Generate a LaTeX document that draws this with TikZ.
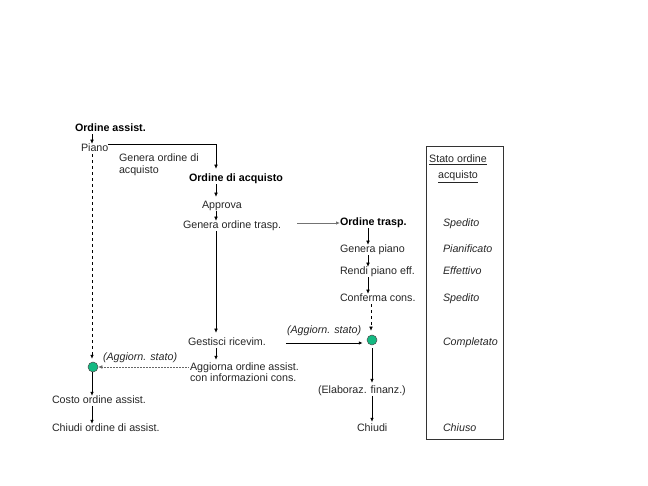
\documentclass[tikz,border=0pt]{standalone}
\usepackage{fontspec}
\setmainfont{Liberation Sans}
\usetikzlibrary{arrows.meta}
\definecolor{dotgreen}{RGB}{20,185,130}
\begin{document}
\begin{tikzpicture}[x=1pt,y=-1pt,
  txt/.style={anchor=west,inner sep=0pt,outer sep=0pt,text height=8pt,text depth=2.5pt,yshift=-2pt,font=\fontsize{10.7}{11}\selectfont,text=black!85},
  btxt/.style={txt,font=\fontsize{10.7}{11}\selectfont\bfseries,text=black},
  itxt/.style={txt,font=\fontsize{10.7}{11}\selectfont\itshape},
  ctxt/.style={txt,anchor=center},
  arr/.style={-{Latex[length=4pt,width=3.5pt]},line width=0.5pt},
  dot/.style={circle,draw=black!70,fill=dotgreen,minimum size=10pt,inner sep=0pt,line width=0.5pt}]
\useasboundingbox (0,0) rectangle (648,486);
\coordinate (cL) at (92,0);
\coordinate (cM) at (216,0);
\coordinate (cR) at (368,0);
% left column
\node[btxt] (oa) at (75,127) {Ordine assist.};
\node[txt] (piano) at (81,147) {Piano};
\node[txt] (goa1) at (119,157) {Genera ordine di};
\node[txt] (goa2) at (119,169) {acquisto};
\node[dot] (circL) at (93,367) {};
\node[itxt] (as2) at (103,356) {(Aggiorn. stato)};
\node[txt] (coa) at (52,399) {Costo ordine assist.};
\node[txt] (cod) at (52,427) {Chiudi ordine di assist.};
% middle column
\node[btxt] (oda) at (189,177) {Ordine di acquisto};
\node[txt] (appr) at (202,204) {Approva};
\node[txt] (got) at (183,224) {Genera ordine trasp.};
\node[txt] (gr) at (188,341) {Gestisci ricevim.};
\node[txt] (aoa1) at (190,366) {Aggiorna ordine assist.};
\node[txt] (aoa2) at (190,377) {con informazioni cons.};
% right column
\node[btxt] (ot) at (340,221) {Ordine trasp.};
\node[txt] (gp) at (340,248) {Genera piano};
\node[txt] (rpe) at (340,270) {Rendi piano eff.};
\node[txt] (cc) at (340,297) {Conferma cons.};
\node[itxt] (as1) at (287,329) {(Aggiorn. stato)};
\node[dot] (circR) at (372,340) {};
\node[txt] (ef) at (318,389) {(Elaboraz. finanz.)};
\node[txt] (ch) at (357,427) {Chiudi};
% status box
\node[draw=black!80,line width=0.6pt,minimum width=77pt,minimum height=293pt,inner sep=0pt] (box) at (464.5,292.5) {};
\node[ctxt] (st1) at (458,158) {\underline{Stato ordine}};
\node[ctxt] (st2) at (458,174) {\underline{acquisto}};
\node[itxt] (s1) at (443,222) {Spedito};
\node[itxt] (s2) at (443,248) {Pianificato};
\node[itxt] (s3) at (443,270) {Effettivo};
\node[itxt] (s4) at (443,297) {Spedito};
\node[itxt] (s5) at (443,341) {Completato};
\node[itxt] (s6) at (443,427) {Chiuso};
% connectors
\draw[arr] (oa.south -| cL) -- (piano.north -| cL);
\draw[arr] ([yshift=5pt]piano.east) -| ([yshift=5pt]oda.north -| cM);
\draw[arr] (oda.south -| cM) -- ([yshift=4pt]appr.north -| cM);
\draw[arr] (appr.south -| cM) -- (got.north -| cM);
\draw[arr] (got.south -| cM) -- ([yshift=5pt]gr.north -| cM);
\draw[arr] (gr.south -| cM) -- ([yshift=3pt]aoa1.north -| cM);
\draw[arr,draw=black!55,line width=0.9pt,shorten <=16pt] (got.east |- ot.west) -- (ot.west);
\draw[arr] (ot.south -| cR) -- (gp.north -| cR);
\draw[arr] (gp.south -| cR) -- (rpe.north -| cR);
\draw[arr] (rpe.south -| cR) -- (cc.north -| cR);
\draw[arr,dashed] ([xshift=-1pt]cc.south -| circR) -- ([xshift=-1pt,yshift=4pt]circR.north);
\draw[arr,line width=0.8pt,shorten <=20pt,shorten >=4pt] (gr.east) -- (circR.west |- gr.east);
\draw[arr] ([yshift=-3pt]circR.south) -- ([yshift=3pt]ef.north -| circR);
\draw[arr] (ef.south -| circR) -- ([yshift=2pt]ch.north -| circR);
\draw[arr,dashed] (piano.south -| cL) -- ([yshift=3pt]circL.north -| cL);
\draw[arr,densely dotted,draw=black!60,shorten <=2pt] (aoa1.west |- circL) -- (circL.east);
\draw[arr] (circL.south -| cL) -- (coa.north -| cL);
\draw[arr] (coa.south -| cL) -- (cod.north -| cL);
\end{tikzpicture}
\end{document}
